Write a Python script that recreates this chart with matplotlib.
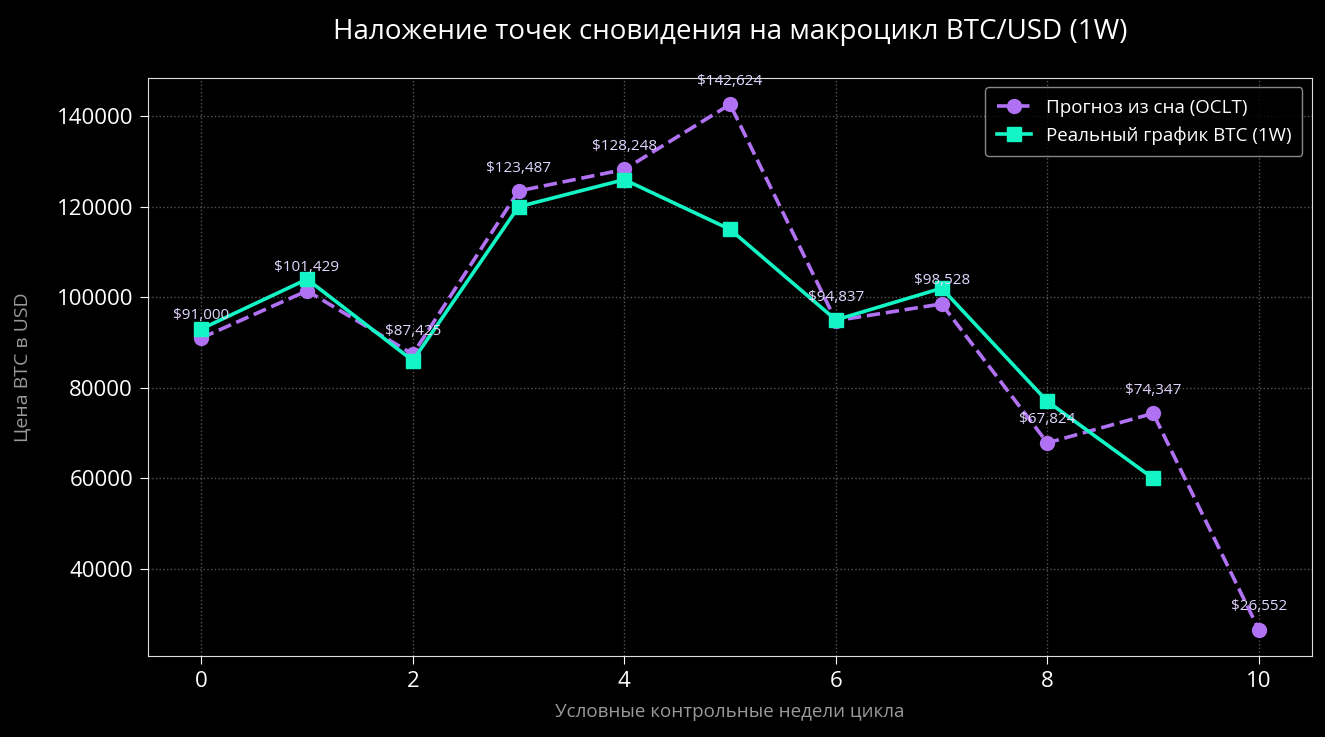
import matplotlib
matplotlib.use("Agg")
import matplotlib.pyplot as plt

weeks = list(range(11))
dream = [91000, 101429, 87425, 123487, 128248, 142624, 94837, 98528, 67824, 74347, 26552]
real_weeks = list(range(10))
real = [93000, 104000, 86000, 120000, 126000, 115000, 95000, 102000, 77000, 60000]

plt.rcParams["font.family"] = ["Open Sans", "DejaVu Sans"]

fig, ax = plt.subplots(figsize=(13.25, 7.37), dpi=100)
fig.patch.set_facecolor("black")
ax.set_facecolor("black")

purple = "#b072f2"
teal = "#14f5c6"

ax.plot(weeks, dream, color=purple, linestyle="--", linewidth=2.6, marker="o",
        markersize=10, label="Прогноз из сна (OCLT)")
ax.plot(real_weeks, real, color=teal, linestyle="-", linewidth=2.6, marker="s",
        markersize=10, label="Реальный график BTC (1W)")

for x, y in zip(weeks, dream):
    ax.annotate(f"${y:,}", (x, y), textcoords="offset points", xytext=(0, 14),
                ha="center", fontsize=11, color="#e2d6ff")

ax.set_title("Наложение точек сновидения на макроцикл BTC/USD (1W)",
             color="white", fontsize=20, pad=28)
ax.set_xlabel("Условные контрольные недели цикла", color="#9a9a9a",
              fontsize=13.5, labelpad=8)
ax.set_ylabel("Цена BTC в USD", color="#9a9a9a", fontsize=14, labelpad=18)

ax.tick_params(colors="white", labelsize=16, length=6, pad=5)
for s in ax.spines.values():
    s.set_color("#dddddd")
ax.grid(True, linestyle=":", color="#555555", linewidth=1)

leg = ax.legend(loc="upper right", fontsize=13.5, facecolor="black",
                edgecolor="#aaaaaa", labelcolor="white", borderpad=0.6,
                handlelength=1.8)

fig.subplots_adjust(left=0.112, right=0.99, top=0.894, bottom=0.11)
fig.savefig("out.png", facecolor="black")
